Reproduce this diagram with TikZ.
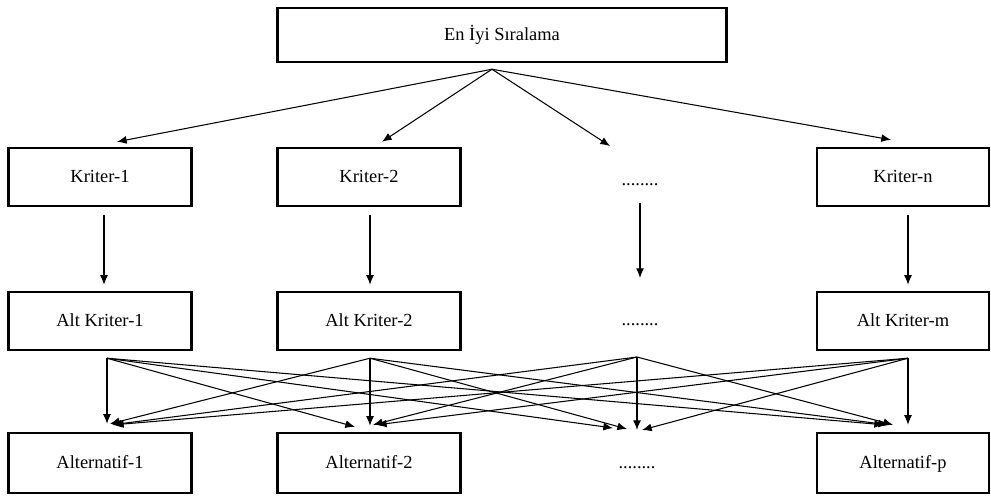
\documentclass[tikz,border=0pt]{standalone}
\usepackage{fontspec}
\setmainfont{Liberation Serif}
\usetikzlibrary{arrows.meta}

\begin{document}
\begin{tikzpicture}[x=0.02cm,y=-0.02cm]
                        \tikzstyle{kutu}=[draw,line width=1.4pt,minimum width=3.66cm,minimum height=1.16cm,text height=1.6ex,text depth=0.3ex,font=\fontsize{10.5}{12}\selectfont]
                        \tikzstyle{nokta}=[font=\fontsize{10.5}{12}\selectfont]
                        \tikzstyle{ok}=[-{Latex[length=5.5pt,width=4.5pt]},line width=0.6pt]
                        \useasboundingbox (0,0) rectangle (991,495);
                        \node[kutu,minimum width=8.98cm,minimum height=1.08cm] (eniyi) at (502,35) {En İyi Sıralama};
                        \node[kutu] (k1) at (100,177) {Kriter-1};
                        \node[kutu] (k2) at (369,177) {Kriter-2};
                        \node[nokta] (kd) at (640,185) {........};
                        \node[kutu,minimum width=3.44cm] (kn) at (903,177) {Kriter-n};
                        \node[kutu] (ak1) at (100,321) {Alt Kriter-1};
                        \node[kutu] (ak2) at (369,321) {Alt Kriter-2};
                        \node[nokta] (akd) at (640,325) {........};
                        \node[kutu,minimum width=3.44cm] (akm) at (903,321) {Alt Kriter-m};
                        \node[kutu,minimum height=1.2cm] (a1) at (100,463) {Alternatif-1};
                        \node[kutu,minimum height=1.2cm] (a2) at (369,463) {Alternatif-2};
                        \node[nokta] (ad) at (637,468) {........};
                        \node[kutu,minimum width=3.44cm,minimum height=1.2cm] (ap) at (903,463) {Alternatif-p};
                        \coordinate (h) at ([shift={(-10,6)}]eniyi.south);
                        \coordinate (k1u) at ([shift={(17,-5)}]k1.north);
                        \coordinate (k2u) at ([shift={(13,-5)}]k2.north);
                        \coordinate (kdu) at ([shift={(-30,-39)}]kd.center);
                        \coordinate (knu) at ([shift={(-12,-7)}]kn.north);
                        \foreach \k in {k1u,k2u,kdu,knu}
                            \draw[ok] (h) -- (\k);
                        \draw[ok] ([shift={(4,8)}]k1.south) -- ([shift={(4,-6)}]ak1.north);
                        \draw[ok] ([shift={(1,8)}]k2.south) -- ([shift={(1,-6)}]ak2.north);
                        \draw[ok] ([shift={(0,18)}]kd.center) -- ([shift={(0,-47)}]akd.center);
                        \draw[ok] ([shift={(5,8)}]kn.south) -- ([shift={(5,-6)}]akm.north);
                        \coordinate (s1) at ([shift={(7,7)}]ak1.south);
                        \coordinate (s2) at ([shift={(1,7)}]ak2.south);
                        \coordinate (s3) at ([shift={(-3,32)}]akd.center);
                        \coordinate (s4) at ([shift={(5,7)}]akm.south);
                        \foreach \s/\x/\y in {s1/7/-8,s2/10/-8,s3/12/-7,s4/14/-7}
                            \draw[ok] (\s) -- ([shift={(\x,\y)}]a1.north);
                        \foreach \s/\x/\y in {s1/-14/-5,s2/1/-6,s3/4/-7,s4/8/-7}
                            \draw[ok] (\s) -- ([shift={(\x,\y)}]a2.north);
                        \foreach \s/\x/\y in {s1/-24/-40,s2/-10/-39,s3/0/-38,s4/5/-38}
                            \draw[ok] (\s) -- ([shift={(\x,\y)}]ad.center);
                        \foreach \s/\x/\y in {s1/-19/-7,s2/-15/-7,s3/-10/-7,s4/5/-7}
                            \draw[ok] (\s) -- ([shift={(\x,\y)}]ap.north);
                    \end{tikzpicture}
\end{document}
